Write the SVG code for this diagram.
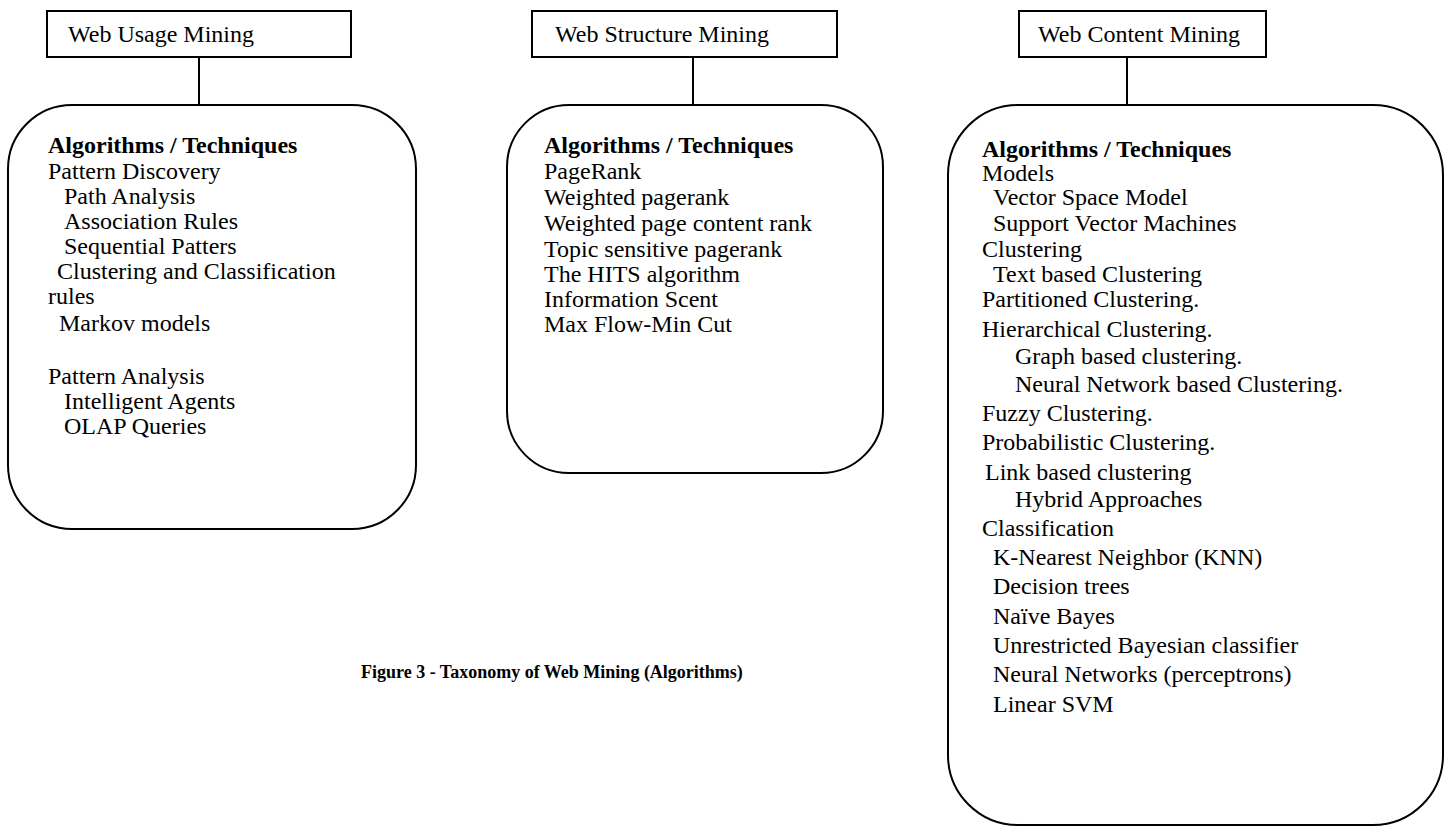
<svg xmlns="http://www.w3.org/2000/svg" width="1448" height="827" viewBox="0 0 1448 827">
<style>
.box{fill:#fff;stroke:#000;stroke-width:2}
.t{font-family:"Liberation Serif","Times New Roman",serif;font-size:24px;fill:#000}
.b{font-weight:bold}
.cap{font-family:"Liberation Serif","Times New Roman",serif;font-size:18px;font-weight:bold;fill:#000}
.c{stroke:#000;stroke-width:2;fill:none}
</style>
<rect width="1448" height="827" fill="#fff"/>
<g id="connectors">
<line class="c" x1="199" y1="57" x2="199" y2="105"/>
<line class="c" x1="693" y1="57" x2="693" y2="105"/>
<line class="c" x1="1127" y1="57" x2="1127" y2="105"/>
</g>
<g id="usage-header">
<rect class="box" x="47" y="11" width="304" height="46"/>
<text class="t" x="68" y="42">Web Usage Mining</text>
</g>
<g id="structure-header">
<rect class="box" x="532" y="11" width="305" height="46"/>
<text class="t" x="555" y="42">Web Structure Mining</text>
</g>
<g id="content-header">
<rect class="box" x="1019" y="11" width="247" height="46"/>
<text class="t" x="1038" y="42">Web Content Mining</text>
</g>
<g id="usage-algorithms">
<rect class="box" x="8" y="105" width="408" height="424" rx="64" ry="64"/>
<text class="t b" x="48" y="153">Algorithms / Techniques</text>
<text class="t" x="48" y="179">Pattern Discovery</text>
<text class="t" x="64" y="204">Path Analysis</text>
<text class="t" x="64" y="229">Association Rules</text>
<text class="t" x="64" y="254">Sequential Patters</text>
<text class="t" x="57" y="279">Clustering and Classification</text>
<text class="t" x="48" y="304">rules</text>
<text class="t" x="59" y="331">Markov models</text>
<text class="t" x="48" y="384">Pattern Analysis</text>
<text class="t" x="64" y="409">Intelligent Agents</text>
<text class="t" x="64" y="434">OLAP Queries</text>
</g>
<g id="structure-algorithms">
<rect class="box" x="507" y="105" width="376" height="368" rx="62" ry="62"/>
<text class="t b" x="544" y="153">Algorithms / Techniques</text>
<text class="t" x="544" y="179">PageRank</text>
<text class="t" x="544" y="205">Weighted pagerank</text>
<text class="t" x="544" y="231">Weighted page content rank</text>
<text class="t" x="544" y="257">Topic sensitive pagerank</text>
<text class="t" x="544" y="282">The HITS algorithm</text>
<text class="t" x="544" y="307">Information Scent</text>
<text class="t" x="544" y="332">Max Flow-Min Cut</text>
</g>
<g id="content-algorithms">
<rect class="box" x="948" y="105" width="495" height="720" rx="70" ry="70"/>
<text class="t b" x="982" y="157">Algorithms / Techniques</text>
<text class="t" x="982" y="181">Models</text>
<text class="t" x="993" y="205">Vector Space Model</text>
<text class="t" x="993" y="231">Support Vector Machines</text>
<text class="t" x="982" y="257">Clustering</text>
<text class="t" x="993" y="282">Text based Clustering</text>
<text class="t" x="982" y="307">Partitioned Clustering.</text>
<text class="t" x="982" y="337">Hierarchical Clustering.</text>
<text class="t" x="1015" y="364">Graph based clustering.</text>
<text class="t" x="1015" y="392">Neural Network based Clustering.</text>
<text class="t" x="982" y="421">Fuzzy Clustering.</text>
<text class="t" x="982" y="450">Probabilistic Clustering.</text>
<text class="t" x="985" y="480">Link based clustering</text>
<text class="t" x="1015" y="507">Hybrid Approaches</text>
<text class="t" x="982" y="536">Classification</text>
<text class="t" x="993" y="565">K-Nearest Neighbor (KNN)</text>
<text class="t" x="993" y="594">Decision trees</text>
<text class="t" x="993" y="624">Naïve Bayes</text>
<text class="t" x="993" y="653">Unrestricted Bayesian classifier</text>
<text class="t" x="993" y="682">Neural Networks (perceptrons)</text>
<text class="t" x="993" y="712">Linear SVM</text>
</g>
<text class="cap" x="361" y="678">Figure 3 - Taxonomy of Web Mining (Algorithms)</text>
</svg>
